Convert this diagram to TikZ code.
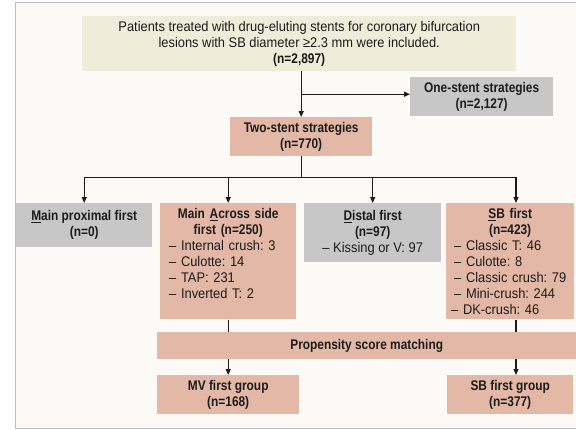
\documentclass[tikz,border=0pt]{standalone}
\usepackage{fontspec}
\setmainfont{Liberation Sans}[FakeStretch=0.92,BoldFeatures={FakeStretch=0.85}]
\usetikzlibrary{arrows.meta,positioning,calc}
\definecolor{panelbg}{HTML}{FBFAF6}
\definecolor{panelrule}{HTML}{BEBEBE}
\definecolor{creamfill}{HTML}{EFECD9}
\definecolor{greyfill}{HTML}{C7C7C7}
\definecolor{pinkfill}{HTML}{E4B8A6}
\definecolor{ink}{HTML}{1C1C1C}
\begin{document}
\begin{tikzpicture}[
  x=1pt,y=-1pt,
  line cap=butt,line join=miter,
  >={Triangle[length=6pt,width=5pt]},
  box/.style={anchor=north west,inner xsep=4pt,inner ysep=5pt,align=center,
    text=ink,font=\fontsize{14}{16}\selectfont\frenchspacing},
  cream/.style={box,fill=creamfill},
  grey/.style={box,fill=greyfill},
  pink/.style={box,fill=pinkfill},
  link/.style={draw=ink,line width=1.2pt},
  arr/.style={link,->}
]
  % Frame
  \useasboundingbox (0,0) rectangle (576,429);
  \fill[panelbg] (15,2) rectangle (576,428);
  \draw[panelrule,line width=1pt] (576,2) -- (15,2) -- (15,428) -- (576,428);

  % Boxes
  \node[cream,minimum width=434pt,minimum height=55pt] (top) at (82,16)
    {Patients treated with drug-eluting stents for coronary bifurcation\\
     lesions with SB diameter ≥2.3 mm were included.\\
     \textbf{(n=2,897)}};
  \node[grey,minimum width=143pt,minimum height=39pt] (one) at (410,77)
    {\textbf{One-stent strategies}\\\textbf{(n=2,127)}};
  \node[pink,minimum width=142pt,minimum height=39pt] (two) at (230,117)
    {\textbf{Two-stent strategies}\\\textbf{(n=770)}};

  \node[grey,minimum width=136pt,minimum height=44pt] (mpf) at (16,203)
    {\textbf{\underline{M}ain proximal first}\\\textbf{(n=0)}};
  \node[pink,inner xsep=6pt,text width=124pt,align=left] (mas) at (160,203)
    {\centering\textbf{Main \underline{A}cross side}\\\textbf{first (n=250)}\par
     \raggedright\leftskip=3pt
     – Internal crush: 3\\
     – Culotte: 14\\
     – TAP: 231\\
     – Inverted T: 2\\
     \mbox{}};
  \node[grey,minimum width=137pt,minimum height=59pt] (dis) at (304,203)
    {\textbf{\underline{D}istal first}\\\textbf{(n=97)}\\– Kissing or V: 97};
  \node[pink,inner xsep=5pt,text width=118pt,align=left] (sbf) at (446,203)
    {\centering\textbf{\underline{S}B first}\\\textbf{(n=423)}\par
     \raggedright\leftskip=3pt
     – Classic T: 46\\
     – Culotte: 8\\
     – Classic crush: 79\\
     – Mini-crush: 244\\
     – DK-crush: 46};

  \node[pink,minimum width=419pt,minimum height=27pt] (psm) at (157,332)
    {\textbf{Propensity score matching}};
  \node[pink,minimum width=142pt,minimum height=38pt] (mvg) at (157,375)
    {\textbf{MV first group}\\\textbf{(n=168)}};
  \node[pink,minimum width=126pt,minimum height=38pt] (sbg) at (447,375)
    {\textbf{SB first group}\\\textbf{(n=377)}};

  % Key points
  \coordinate (rcol) at (516,0);
  \coordinate (br) at ($(two.north |- top.south)!0.5!(two.north)$);
  \coordinate (split) at ($(two.south)+(0,21)$);

  % Connectors
  \draw[arr] (two.north |- top.south) -- (two.north);
  \draw[arr] (br) -- (br -| one.west);
  \draw[link] (two.south) -- (split);
  \draw[link] (split -| mpf.north) -- (split -| rcol);
  \foreach \n in {mpf,mas,dis}
    \draw[arr] (split -| \n.north) -- (\n.north);
  \draw[arr] (split -| rcol) -- (rcol |- sbf.north);
  \draw[link] (mas.south) -- (mas.south |- psm.north);
  \draw[link] (rcol |- sbf.south) -- (rcol |- psm.north);
  \draw[arr] (mvg.north |- psm.south) -- (mvg.north);
  \draw[arr] (rcol |- psm.south) -- (rcol |- sbg.north);
\end{tikzpicture}
\end{document}
